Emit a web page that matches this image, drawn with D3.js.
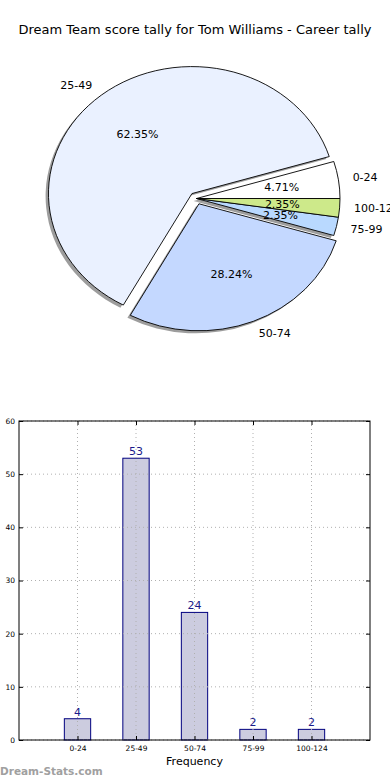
<!DOCTYPE html>
<html><head><meta charset="utf-8">
<script src="https://cdn.jsdelivr.net/npm/d3@7"></script>
<style>body{margin:0;background:#fff}svg{display:block}text{font-family:"DejaVu Sans",sans-serif}</style>
</head><body>
<svg id="c" width="390" height="780"></svg>
<script>
const categories = ["0-24","25-49","50-74","75-99","100-124"];
const pieLabels = ["0-24","25-49","50-74","75-99","100-12"];
const counts = [4,53,24,2,2];
const explode = [0,0.05,0.045,0,0];
const pieColors = ["#ffffff","#eaf1ff","#c4d8ff","#b9d9ff","#cde98a"];
const yTicks = [0,10,20,30,40,50,60];
const title = "Dream Team score tally for Tom Williams - Career tally";

const svg = d3.select("#c");
svg.append("text").attr("x",195).attr("y",34).attr("text-anchor","middle")
  .attr("font-size",13).attr("fill","#000").text(title);

// ---- Pie (matplotlib style: start at 3 o'clock, counter-clockwise, elliptical axes)
const cx = 196.5, cy = 198.5, rx = 143.5, ry = 127, R = 100;
const total = d3.sum(counts);
const pie = d3.pie().sort(null).startAngle(Math.PI/2).endAngle(Math.PI/2 - 2*Math.PI);
const arcs = pie(counts);
const arc = d3.arc().innerRadius(0).outerRadius(R);
const g = svg.append("g");
function off(d,i){
  const mid = Math.PI/2 - (d.startAngle + d.endAngle)/2; // mpl angle
  return {c:Math.cos(mid), s:Math.sin(mid), e:explode[i]};
}
// shadows
arcs.forEach((d,i)=>{
  const o = off(d,i);
  const tx = cx + o.e*o.c*rx - 0.02*rx, ty = cy - o.e*o.s*ry + 0.02*ry;
  g.append("path").attr("d",arc(d))
    .attr("transform",`translate(${tx},${ty}) scale(${rx/R},${ry/R})`)
    .attr("fill","#4d4d4d").attr("fill-opacity",0.55);
});
// wedges
arcs.forEach((d,i)=>{
  const o = off(d,i);
  const tx = cx + o.e*o.c*rx, ty = cy - o.e*o.s*ry;
  g.append("path").attr("d",arc(d))
    .attr("transform",`translate(${tx},${ty}) scale(${rx/R},${ry/R})`)
    .attr("fill",pieColors[i]).attr("stroke","#000").attr("stroke-width",0.9)
    .attr("vector-effect","non-scaling-stroke");
});
// labels
arcs.forEach((d,i)=>{
  const o = off(d,i);
  const bx = cx + o.e*o.c*rx, by = cy - o.e*o.s*ry;
  g.append("text").attr("x", bx + 1.1*o.c*rx).attr("y", by - 1.1*o.s*ry)
    .attr("text-anchor", o.c>0 ? "start":"end").attr("dominant-baseline","central")
    .attr("font-size",11).text(pieLabels[i]);
  g.append("text").attr("x", bx + 0.6*o.c*rx).attr("y", by - 0.6*o.s*ry)
    .attr("text-anchor","middle").attr("dominant-baseline","central")
    .attr("font-size",11).text((100*counts[i]/total).toFixed(2)+"%");
});

// ---- Bar chart
const L=19, Rt=370, T=421, B=740;
const x = d3.scaleLinear().domain([-1,5]).range([L,Rt]);
const y = d3.scaleLinear().domain([0,60]).range([B,T]);
const bw = x(0.45)-x(0);
const b = svg.append("g");
b.selectAll("rect.bar").data(counts).join("rect").attr("class","bar")
  .attr("x",(d,i)=>x(i)-bw/2).attr("y",d=>y(d)).attr("width",bw).attr("height",d=>B-y(d))
  .attr("fill","#ccccdf").attr("stroke","#00007f").attr("stroke-width",1);
// grid (on top like matplotlib)
b.selectAll("line.gy").data(yTicks).join("line").attr("class","gy")
  .attr("x1",L).attr("x2",Rt).attr("y1",d=>y(d)).attr("y2",d=>y(d))
  .attr("stroke","#b0b0b0").attr("stroke-dasharray","1,3").attr("stroke-width",1);
b.selectAll("line.gx").data(categories).join("line").attr("class","gx")
  .attr("x1",(d,i)=>x(i)).attr("x2",(d,i)=>x(i)).attr("y1",T).attr("y2",B)
  .attr("stroke","#b0b0b0").attr("stroke-dasharray","1,3").attr("stroke-width",1);
// axes
const ay = d3.axisLeft(y).tickValues(yTicks).tickSize(-4).tickPadding(4);
b.append("g").attr("transform",`translate(${L},0)`).call(ay)
  .call(s=>{s.select(".domain").remove();s.selectAll("text").attr("font-size",7.5).attr("font-family","DejaVu Sans");});
b.append("g").attr("transform",`translate(${Rt},0)`).call(d3.axisRight(y).tickValues(yTicks).tickSize(-4).tickFormat(""))
  .call(s=>s.select(".domain").remove());
const ax = d3.axisBottom(x).tickValues([0,1,2,3,4]).tickFormat(i=>categories[i]).tickSize(-4).tickPadding(6);
b.append("g").attr("transform",`translate(0,${B})`).call(ax)
  .call(s=>{s.select(".domain").remove();s.selectAll("text").attr("font-size",7.5).attr("font-family","DejaVu Sans");});
b.append("g").attr("transform",`translate(0,${T})`).call(d3.axisTop(x).tickValues([0,1,2,3,4]).tickSize(-4).tickFormat(""))
  .call(s=>s.select(".domain").remove());
b.append("rect").attr("x",L).attr("y",T).attr("width",Rt-L).attr("height",B-T)
  .attr("fill","none").attr("stroke","#000").attr("stroke-width",1);
// value labels
b.selectAll("text.v").data(counts).join("text").attr("class","v")
  .attr("x",(d,i)=>x(i)).attr("y",d=>y(d)-3).attr("text-anchor","middle")
  .attr("font-size",11).attr("fill","#1a1a8a").text(d=>d);
b.append("text").attr("x",(L+Rt)/2).attr("y",765).attr("text-anchor","middle")
  .attr("font-size",11).text("Frequency");
svg.append("text").attr("x",0).attr("y",775).attr("font-size",10.5).attr("font-weight","bold")
  .attr("fill","#a0a0a0").text("Dream-Stats.com");
</script>
</body></html>
